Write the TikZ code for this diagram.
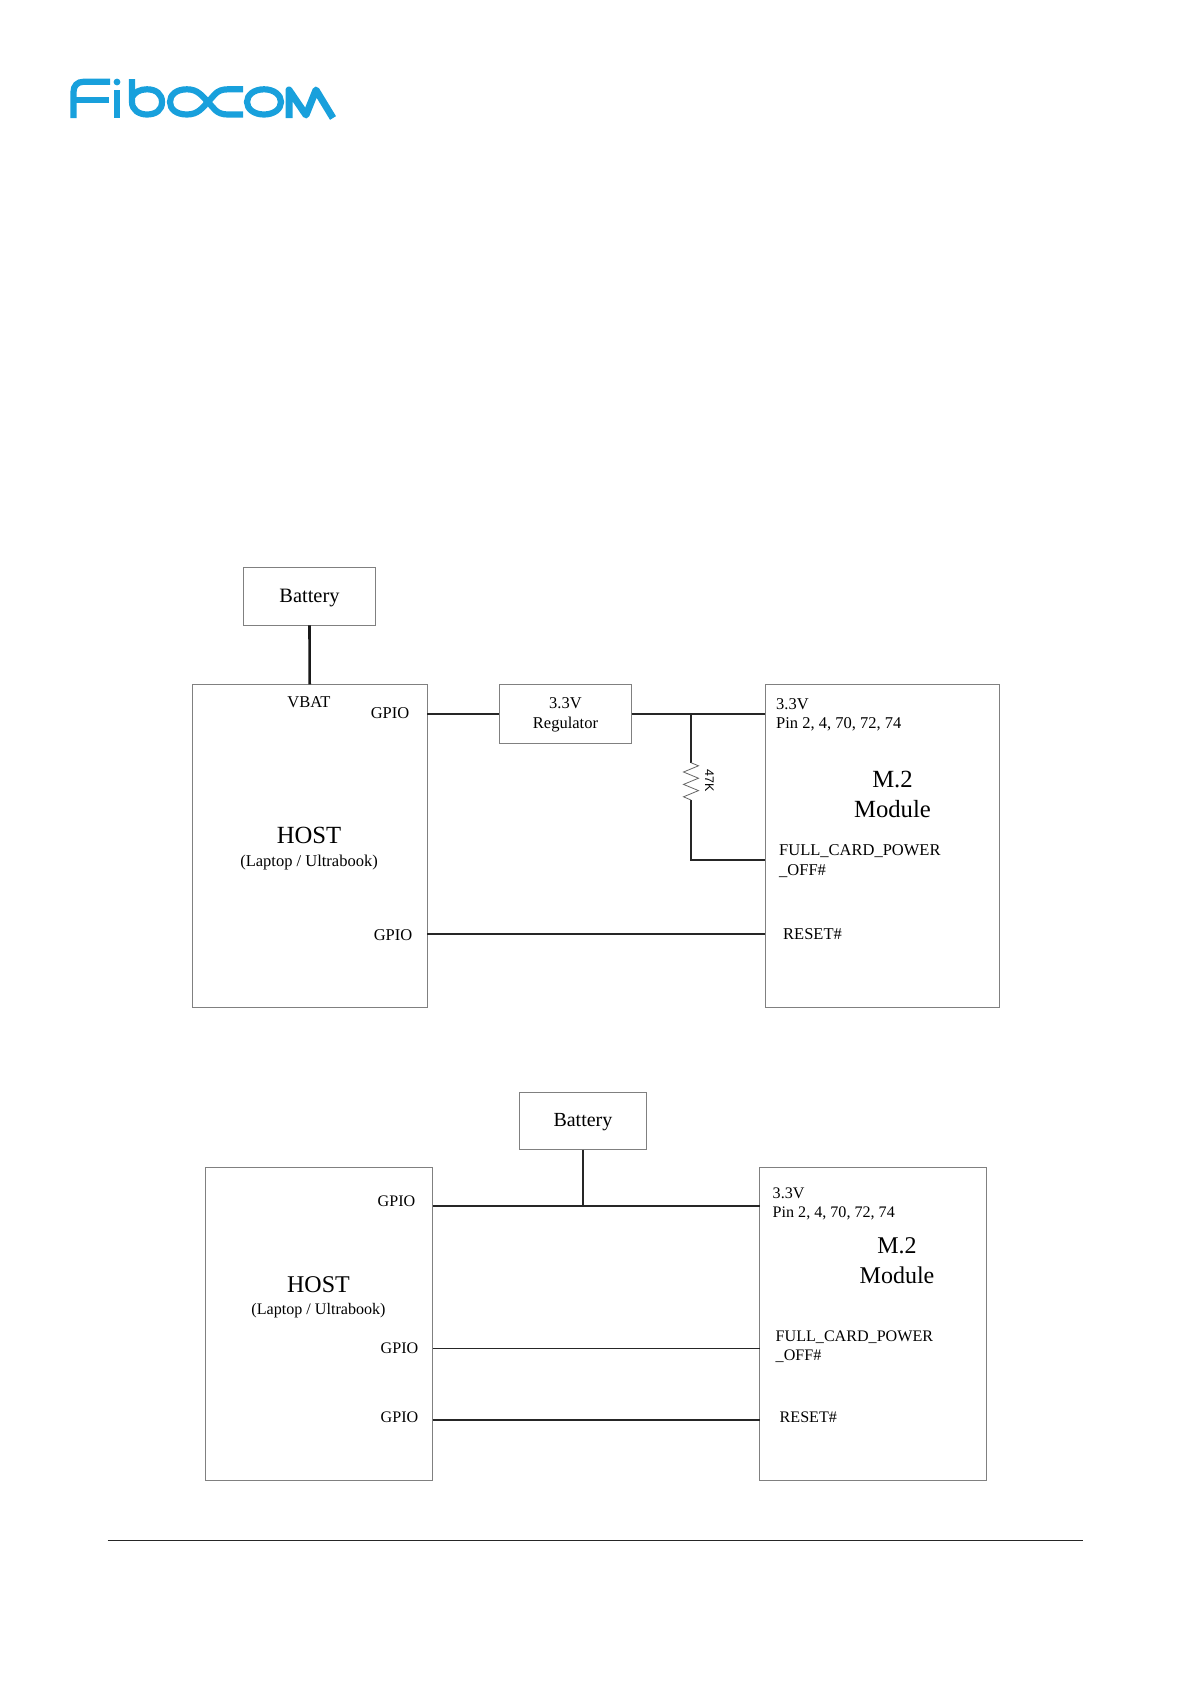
\documentclass[tikz,border=0pt]{standalone}
\usepackage{fontspec}
\setmainfont{Liberation Serif}
\newfontfamily\labelsans{Liberation Sans}
\definecolor{logoblue}{HTML}{18A0DC}
\tikzset{
  box/.style={draw=black!50,line width=0.9pt,inner sep=0pt,align=center,anchor=north west},
  wire/.style={draw=black!85,line width=1.7pt},
  thick wire/.style={draw=black!90,line width=2.6pt},
  small/.style={font=\fontsize{16.5pt}{19.5pt}\selectfont,inner sep=0pt,align=left},
  smalltwo/.style={font=\fontsize{16.1pt}{19.5pt}\selectfont,inner sep=0pt,align=left},
  big/.style={font=\fontsize{24.7pt}{30pt}\selectfont,inner sep=0pt,align=center},
  bigtwo/.style={font=\fontsize{24pt}{30pt}\selectfont,inner sep=0pt,align=center},
  logo/.style={draw=logoblue,line width=6.2pt},
}
\begin{document}
\begin{tikzpicture}[x=1pt,y=-1pt]
\useasboundingbox (0,0) rectangle (1191,1684);
% logo
\draw[logo] (110,81.7) -- (84,81.7) .. controls (77,81.7) and (73.5,86) .. (73.5,92) -- (73.5,118);
\draw[logo] (73.5,100) -- (109,100);
\draw[logo] (117,90) -- (117,118);
\fill[logoblue] (117,82) circle (3.4);
\draw[logo] (132,79) -- (132,102) .. controls (132,110) and (139,114.5) .. (147,114.5) .. controls (156,114.5) and (162,110) .. (162,102) .. controls (162,94) and (156,89.3) .. (147,89.3) .. controls (140,89.3) and (135,92) .. (132,97);
\draw[logo] (243,89.3) -- (228,89.3) .. controls (216,89.3) and (214,96) .. (208,102) .. controls (202,108) and (198,114.5) .. (187,114.5) .. controls (176,114.5) and (170,109) .. (170,102) .. controls (170,95) and (176,89.3) .. (187,89.3) .. controls (198,89.3) and (202,96) .. (208,102) .. controls (214,108) and (216,114.5) .. (228,114.5) -- (243,114.5);
\draw[logo] (264,89.3) .. controls (274,89.3) and (281,95) .. (281,102) .. controls (281,109) and (274,114.5) .. (264,114.5) .. controls (254,114.5) and (247,109) .. (247,102) .. controls (247,95) and (254,89.3) .. (264,89.3) -- cycle;
\draw[logo,line width=7pt,line join=round] (289,118) -- (289,90) -- (306,115) -- (316,90) -- (333,118);
% upper diagram
\node[box,minimum width=131.5pt,minimum height=57.5pt] (bat1) at (243.3,567) {};
\node[font=\fontsize{20.4pt}{24pt}\selectfont] at ([yshift=-2pt]bat1.center) {Battery};
\node[box,minimum width=234.5pt,minimum height=322.5pt] (host1) at (192,684.3) {};
\node[box,minimum width=131.5pt,minimum height=58.5pt] (reg) at (499.3,684.3) {};
\node[small,align=center] at ([yshift=-1pt]reg.center) {3.3V\\Regulator};
\node[box,minimum width=234.5pt,minimum height=322.5pt] (mod1) at (764.6,684.3) {};
\draw[thick wire] (bat1.south) -- (host1.north);
\coordinate (g1) at (427,713.7);
\coordinate (p1) at (765,713.7);
\coordinate (j1) at (691,713.7);
\coordinate (r1) at (691,762.7);
\coordinate (r2) at (691,800);
\coordinate (f1) at (765,860);
\coordinate (jf) at (691,860);
\coordinate (g2) at (427,934);
\coordinate (rs1) at (765,934);
\draw[wire] (g1) -- (reg.west |- g1);
\draw[wire] (reg.east |- p1) -- (p1);
\draw[wire] (j1) -- (r1);
\draw[wire] (r2) -- (jf) -- (f1);
\draw[wire] (g2) -- (rs1);
\draw[draw=black!60,line width=0.8pt] (r1) -- ++(7.5,3.1) -- ++(-15,6.2) -- ++(15,6.2) -- ++(-15,6.2) -- ++(15,6.2) -- ++(-15,6.2) -- (r2);
\node[rotate=-90,font=\labelsans\fontsize{12.5pt}{14pt}\selectfont,inner sep=0pt] at (709.5,781) {47K};
\node[small] at (309,702.5) {VBAT};
\node[small] at (390,713.5) {GPIO};
\node[small] at (393,935.5) {GPIO};
\node[big] at (309,835.5) {HOST};
\node[small] at (309,863) {(Laptop / Ultrabook)};
\node[small,anchor=north west] at (776,698) {3.3V\\Pin 2, 4, 70, 72, 74};
\node[big] at (892.5,794.5) {M.2\\Module};
\node[small,anchor=north west,font=\fontsize{16.5pt}{20pt}\selectfont] at (779,844) {FULL\_CARD\_POWER\\\_OFF\#};
\node[small,anchor=west] at (783,934.5) {RESET\#};
% lower diagram
\node[box,minimum width=127pt,minimum height=57pt] (bat2) at (519,1092) {};
\node[font=\fontsize{20pt}{24pt}\selectfont] at ([yshift=-1.5pt]bat2.center) {Battery};
\node[box,minimum width=227.5pt,minimum height=313pt] (host2) at (204.8,1167) {};
\node[box,minimum width=227pt,minimum height=313pt] (mod2) at (759.3,1167) {};
\coordinate (g3) at (432.5,1206);
\coordinate (p2) at (759.5,1206);
\coordinate (j2) at (583,1206);
\coordinate (g4) at (432.5,1348.5);
\coordinate (f2) at (759.5,1348.5);
\coordinate (g5) at (432.5,1420);
\coordinate (rs2) at (759.5,1420);
\draw[wire] (g3) -- (p2);
\draw[wire,line width=1.9pt] (bat2.south) -- (bat2.south |- j2);
\draw[wire] (g4) -- (f2);
\draw[wire] (g5) -- (rs2);
\node[smalltwo] at (396.5,1201.5) {GPIO};
\node[smalltwo] at (399.5,1348.5) {GPIO};
\node[smalltwo] at (399.5,1417) {GPIO};
\node[bigtwo] at (318.5,1284.5) {HOST};
\node[smalltwo] at (318.5,1310.5) {(Laptop / Ultrabook)};
\node[smalltwo,anchor=north west] at (772.5,1187.5) {3.3V\\Pin 2, 4, 70, 72, 74};
\node[bigtwo] at (897,1261) {M.2\\Module};
\node[smalltwo,anchor=north west] at (775.5,1330.5) {FULL\_CARD\_POWER\\\_OFF\#};
\node[smalltwo,anchor=west] at (779.5,1417.5) {RESET\#};
% footer rule
\coordinate (fl) at (107.5,1540.6);
\coordinate (fr) at (1083,1540.6);
\draw[draw=black!85,line width=1pt] (fl) -- (fr);
\end{tikzpicture}
\end{document}
